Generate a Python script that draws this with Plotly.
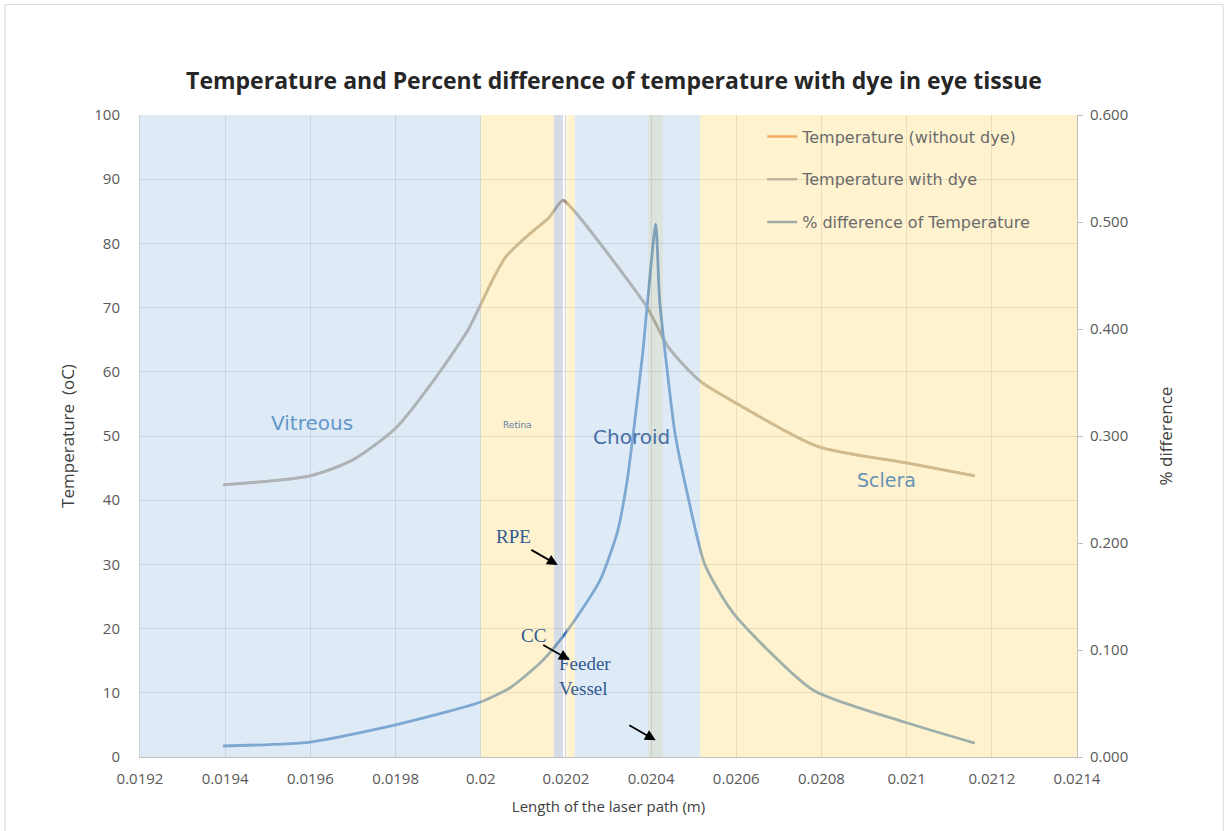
import plotly.graph_objects as go

# ---- data ---------------------------------------------------------------
# Temperature along the laser path (m) through the eye tissue layers
x_temp = [0.019395, 0.0196, 0.0197, 0.0198, 0.01989, 0.01997, 0.0200, 0.02003,
          0.02006, 0.02011, 0.02016, 0.020193, 0.02022, 0.02031, 0.02039,
          0.02044, 0.02048, 0.02052, 0.0206, 0.02079, 0.0210, 0.02116]
temp_with_dye = [42.4, 43.8, 46.3, 51.2, 58.7, 66.5, 70.5, 74.6,
                 78.0, 81.2, 84.0, 86.7, 85.0, 77.4, 70.1,
                 63.9, 60.8, 58.3, 55.1, 48.4, 45.8, 43.8]
temp_without_dye = [42.4, 43.8, 46.3, 51.2, 58.7, 66.5, 70.5, 74.6,
                    78.0, 81.2, 84.0, 86.7, 85.0, 77.4, 70.1,
                    63.9, 60.8, 58.3, 55.1, 48.4, 45.8, 43.8]

# Percent difference of temperature caused by the dye
x_pct = [0.019395, 0.0196, 0.0198, 0.0200, 0.02007, 0.02014, 0.020186,
         0.020233, 0.02028, 0.02032, 0.020343, 0.020362, 0.020381, 0.020392,
         0.020411, 0.02042, 0.020437, 0.020456, 0.020484, 0.020526,
         0.020592, 0.02078, 0.0210, 0.02116]
pct_diff = [0.0103, 0.014, 0.030, 0.0514, 0.065, 0.088, 0.109,
            0.135, 0.165, 0.209, 0.256, 0.315, 0.38, 0.427,
            0.498, 0.427, 0.364, 0.303, 0.248, 0.180,
            0.135, 0.0626, 0.032, 0.013]

# Tissue layers along the path: (start, end, kind)
layer_start = [0.0192, 0.0200, 0.020172, 0.020202, 0.020221, 0.020393, 0.020428, 0.020515]
layer_end = [0.0200, 0.020172, 0.020193, 0.020221, 0.020393, 0.020428, 0.020515, 0.0214]
layer_kind = ["blue", "yellow", "rpe", "yellow", "blue", "vessel", "blue", "yellow"]

x_tick_vals = [0.0192, 0.0194, 0.0196, 0.0198, 0.0200, 0.0202,
               0.0204, 0.0206, 0.0208, 0.0210, 0.0212, 0.0214]
x_tick_text = ["0.0192", "0.0194", "0.0196", "0.0198", "0.02", "0.0202",
               "0.0204", "0.0206", "0.0208", "0.021", "0.0212", "0.0214"]

# ---- styling ------------------------------------------------------------
# layer tints are laid semi-transparently over the plot, tinting lines/grid
LAYER_FILL = {
    "blue": "rgb(189,215,239)",
    "yellow": "rgb(255,229,160)",
    "rpe": "rgb(173,185,203)",
    "vessel": "rgb(187,201,190)",
}
TICK_FONT = dict(family="Open Sans", size=15, color="#595959")
GRID = "#d4d4d4"

fig = go.Figure()

fig.add_trace(go.Scatter(
    x=x_temp, y=temp_without_dye, mode="lines", name="Temperature (without dye)",
    line=dict(color="rgb(237,125,49)", width=2.6, shape="spline", smoothing=0.7),
    showlegend=False, hoverinfo="skip"))
fig.add_trace(go.Scatter(
    x=x_temp, y=temp_with_dye, mode="lines", name="Temperature with dye",
    line=dict(color="rgb(155,145,130)", width=2.8, shape="spline", smoothing=0.7),
    showlegend=False))
fig.add_trace(go.Scatter(
    x=x_pct, y=pct_diff, mode="lines", name="% difference of Temperature",
    yaxis="y2",
    line=dict(color="rgb(62,120,180)", width=2.8, shape="spline", smoothing=0.6),
    showlegend=False))

# legend entries (drawn with the tinted colours as they appear over the layers)
legend_items = [
    ("Temperature (without dye)", "rgb(240,172,100)"),
    ("Temperature with dye", "rgb(192,180,156)"),
    ("% difference of Temperature", "rgb(158,172,165)"),
]
for i, (name, col) in enumerate(legend_items):
    fig.add_trace(go.Scatter(
        x=[None], y=[None], mode="lines", name=name, legendgroup=f"g{i}",
        line=dict(color=col, width=2.5)))

# tissue layer bands
for x0, x1, kind in zip(layer_start, layer_end, layer_kind):
    fig.add_shape(type="rect", xref="x", yref="y", x0=x0, x1=x1, y0=0, y1=100,
                  fillcolor=LAYER_FILL[kind], opacity=0.5, line_width=0,
                  layer="above")

# outer frame of the chart
fig.add_shape(type="rect", xref="paper", yref="paper",
              x0=-0.144, x1=1.156, y0=-0.13, y1=1.172,
              line=dict(color="#d9d9d9", width=1), fillcolor="rgba(0,0,0,0)")

# region labels
region_labels = [
    ("Vitreous", 0.019604, 52.0, 20, "rgb(100,150,200)", "DejaVu Sans"),
    ("Retina", 0.020087, 51.7, 9, "rgb(95,125,160)", "DejaVu Sans"),
    ("Choroid", 0.020353, 49.8, 20, "rgb(72,112,165)", "DejaVu Sans"),
    ("Sclera", 0.020953, 43.1, 19, "rgb(105,145,180)", "DejaVu Sans"),
]
for text, x, y, size, col, fam in region_labels:
    fig.add_annotation(x=x, y=y, text=text, showarrow=False,
                       font=dict(family=fam, size=size, color=col))

serif = dict(family="Liberation Serif", size=19, color="rgb(50,90,145)")
fig.add_annotation(x=0.020076, y=34.3, text="RPE", showarrow=False, font=serif)
fig.add_annotation(x=0.020125, y=19.0, text="CC", showarrow=False, font=serif)
fig.add_annotation(x=0.020245, y=12.6, text="Feeder<br>Vessel", showarrow=False,
                   font=serif, align="left")

# pointer arrows
for x, y in [(0.020181, 29.9), (0.020209, 15.1), (0.020411, 2.6)]:
    fig.add_annotation(x=x, y=y, text="", showarrow=True, arrowhead=2,
                       arrowsize=1.2, arrowwidth=1.8, arrowcolor="black",
                       ax=-28, ay=-16)

fig.update_layout(
    width=1228, height=831,
    margin=dict(l=140, r=151, t=115, b=74),
    paper_bgcolor="white", plot_bgcolor="white",
    title=dict(text="<b>Temperature and Percent difference of temperature with dye in eye tissue</b>",
               x=0.5, xanchor="center", y=0.902, yanchor="middle",
               font=dict(family="Open Sans", size=23, color="#262626")),
    xaxis=dict(range=[0.0192, 0.0214], tickvals=x_tick_vals, ticktext=x_tick_text,
               showgrid=True, gridcolor=GRID, zeroline=False,
               showline=True, linecolor="#bfbfbf", linewidth=1,
               tickfont=TICK_FONT, ticklabelstandoff=8,
               title=dict(text="Length of the laser path (m)",
                          font=dict(family="Open Sans", size=15, color="#404040"),
                          standoff=14)),
    yaxis=dict(range=[0, 100], dtick=10, showgrid=True, gridcolor=GRID,
               zeroline=False, showline=True, linecolor="#d0d0d0",
               tickfont=TICK_FONT, ticklabelstandoff=16,
               title=dict(text="Temperature  (oC)",
                          font=dict(family="Open Sans", size=17, color="#404040"),
                          standoff=15)),
    yaxis2=dict(range=[0, 0.6], dtick=0.1, tickformat=".3f", overlaying="y",
                side="right", showgrid=False, zeroline=False,
                showline=True, linecolor="#bfbfbf", ticks="outside", ticklen=5,
                tickcolor="#bfbfbf", tickfont=TICK_FONT, ticklabelstandoff=4,
                title=dict(text="% difference",
                           font=dict(family="Open Sans", size=17, color="#404040"),
                           standoff=32)),
    legend=dict(x=0.664, y=0.993, xanchor="left", yanchor="top",
                bgcolor="rgba(0,0,0,0)", traceorder="grouped",
                tracegroupgap=19,
                font=dict(family="DejaVu Sans", size=16, color="#6b6b6b")),
    showlegend=True,
)

fig.write_html("out.html")
